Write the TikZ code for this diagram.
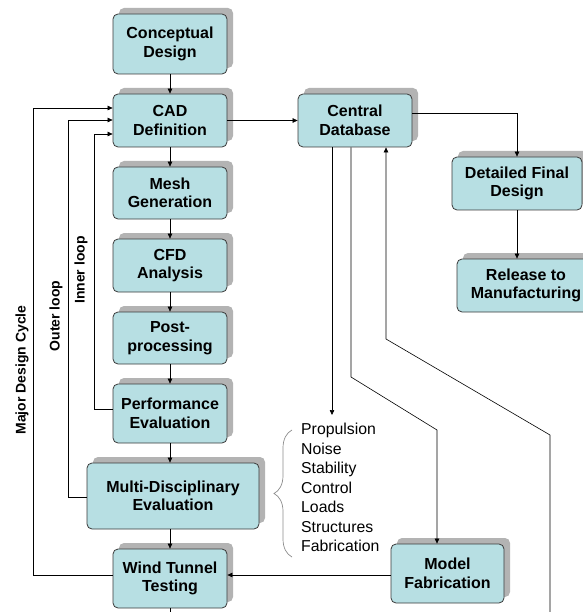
\documentclass[tikz,border=0pt]{standalone}
\usepackage{fontspec}
\setmainfont{Liberation Sans}
\usetikzlibrary{arrows.meta,shadows,decorations.pathreplacing}
\definecolor{boxfill}{HTML}{B7DFE3}
\definecolor{shadowgray}{HTML}{B3B3B3}
\definecolor{boxborder}{HTML}{3A3A3A}
\begin{document}
\begin{tikzpicture}[x=1pt,y=-1pt,
  procbox/.style={draw=boxborder, line width=0.8pt, fill=boxfill, rounded corners=5pt,
    align=center, inner sep=0pt, minimum width=114pt, minimum height=53pt,
    font=\bfseries\fontsize{16}{18.5}\selectfont,
    drop shadow={shadow xshift=6pt, shadow yshift=6pt, fill=shadowgray, opacity=1}},
  conn/.style={line width=0.6pt, black},
  arr/.style={conn, -{Triangle[length=5pt,width=4.5pt]}},
  looplabel/.style={rotate=90, font=\bfseries\fontsize{14}{16}\selectfont, inner sep=0pt},
  brace/.style={draw=black!45, line width=0.7pt, decorate, decoration={brace, amplitude=18pt}}
]
\useasboundingbox (0,0) rectangle (582,612);

\node[procbox, minimum height=60pt] (concept) at (170,44) {Conceptual\\Design};
\node[procbox] (cad) at (170,120.5) {CAD\\Definition};
\node[procbox, minimum height=52pt] (mesh) at (170,193) {Mesh\\Generation};
\node[procbox] (cfd) at (170,265.5) {CFD\\Analysis};
\node[procbox, minimum height=52pt] (post) at (170,338) {Post-\\processing};
\node[procbox, minimum height=59pt] (perf) at (170,413.5) {Performance\\Evaluation};
\node[procbox, minimum width=172pt, minimum height=66pt] (multi) at (173,496) {Multi-Disciplinary\\Evaluation};
\node[procbox, minimum height=59pt] (wind) at (170,578.5) {Wind Tunnel\\Testing};
\node[procbox] (db) at (355,120.5) {Central\\Database};
\node[procbox, minimum width=130pt] (detail) at (517,183.5) {Detailed Final\\Design};
\node[procbox, minimum width=138pt] (release) at (526,285.5) {Release to\\Manufacturing};
\node[procbox, minimum width=113pt, minimum height=59pt] (mf) at (447.5,573.5) {Model\\Fabrication};

\node[anchor=north west, align=left, inner sep=0pt, font=\fontsize{15.8}{19.5}\selectfont] (list) at (301,423)
  {Propulsion\\Noise\\Stability\\Control\\Loads\\Structures\\Fabrication};

\node[looplabel] (lmajor) at (22,370) {Major Design Cycle};
\node[looplabel] (louter) at (56,316) {Outer loop};
\node[looplabel] (linner) at (81,270) {Inner loop};

% main chain
\draw[arr] (concept) -- (cad);
\draw[arr] (cad) -- (mesh);
\draw[arr] (mesh) -- (cfd);
\draw[arr] (cfd) -- (post);
\draw[arr] (post) -- (perf);
\draw[arr] (perf.south) -- (perf.south |- multi.north);
\draw[arr] (multi.south -| wind.north) -- (wind.north);
\coordinate (wbot) at (170,615);
\draw[conn] (wind.south) -- (wbot);

\draw[arr] (cad.east) -- (db.west);
\draw[arr] (db.east |- 0,113) -| (detail.north);
\draw[arr] (detail.south) -- (detail.south |- release.north);

% from database
\coordinate (d1end) at (332,415);
\draw[arr] (db.south -| d1end) -- (d1end);
\coordinate (d2a) at (351,377);
\coordinate (d2b) at (437,430);
\draw[arr] (db.south -| d2a) -- (d2a) -- (d2b) -- (mf.north -| d2b);
\coordinate (d3s) at (550,615);
\coordinate (d3a) at (550,435);
\coordinate (d3b) at (386,339);
\draw[arr] (d3s) -- (d3a) -- (d3b) -- (db.south -| d3b);

\draw[arr] (mf.west |- 0,575) -- (wind.east |- 0,575);

% loops
\coordinate (mj) at (33,108);
\coordinate (ou) at (68,120);
\coordinate (in) at (94,134);
\draw[arr] (wind.west |- 0,575) -| (mj) -- (cad.west |- mj);
\draw[arr] (multi.west |- 0,497) -| (ou) -- (cad.west |- ou);
\draw[arr] (perf.west |- 0,409) -| (in) -- (cad.west |- in);

% brace
\draw[brace] (292,557) -- (292,430);
\end{tikzpicture}
\end{document}
